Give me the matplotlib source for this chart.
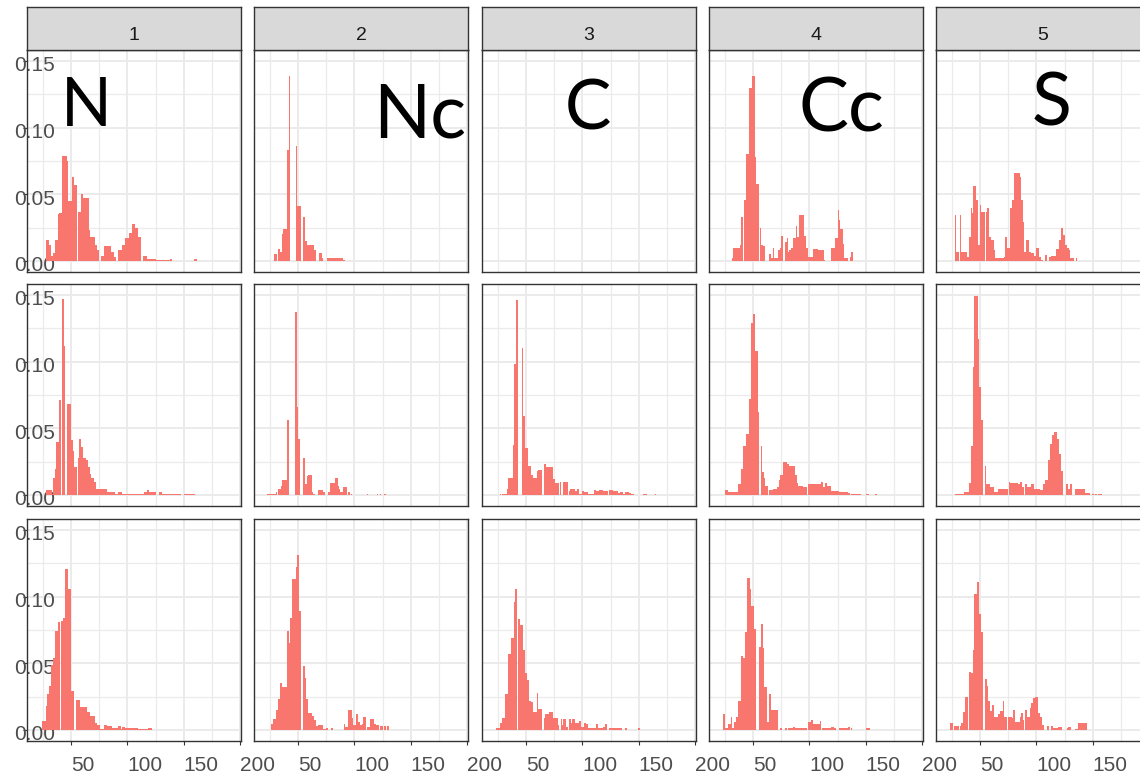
import numpy as np
import matplotlib.pyplot as plt
from matplotlib.transforms import ScaledTranslation

plt.rcParams['font.family'] = ['Liberation Sans', 'DejaVu Sans']

# histogram bins are 1 unit wide; each run is (number of bins, height in 1/1000)
strip_labels = ['1', '2', '3', '4', '5']
panel_names = ['N', 'Nc', 'C', 'Cc', 'S']

N_1 = [(2, 16), (2, 12), (2, 4), (2, 6), (2, 16), (1, 35), (3, 36), (4, 79), (1, 75), (4, 45),
       (2, 63), (2, 57), (1, 0), (3, 37), (2, 50), (5, 47), (1, 23), (4, 18), (2, 12), (2, 8),
       (2, 0), (2, 4), (6, 11), (3, 7), (2, 3), (2, 0), (3, 8), (3, 12), (3, 17), (3, 21),
       (3, 28), (2, 25), (3, 18), (2, 0), (3, 4), (8, 1.5), (13, 1), (2, 1.5), (19, 0.3), (3, 1.5)]
Nc_1 = [(2, 5), (1, 0), (2, 9), (2, 7), (1, 20), (3, 24), (2, 83), (1, 139), (5, 0), (1, 86),
        (4, 41), (1, 0), (2, 33), (2, 15), (6, 12), (2, 8), (3, 0), (2, 6), (1, 2), (4, 0),
        (8, 2), (6, 2.5), (2, 1), (30, 0.3)]
C_1 = []
Cc_1 = [(1, 2), (6, 9.5), (1, 12), (2, 33), (1, 0), (2, 46), (2, 80), (3, 130), (3, 139), (1, 78),
        (2, 58), (1, 0), (1, 24.5), (2, 12), (2, 11), (3, 0), (2, 5), (2, 2), (1, 10), (3, 2),
        (2, 8), (1, 9.5), (2, 19), (1, 0), (2, 14), (1, 17), (1, 7), (2, 8), (1, 9.5), (3, 17),
        (1, 26), (2, 18), (4, 34.5), (2, 19), (2, 9.5), (4, 3), (5, 9), (5, 8), (1, 1), (5, 0),
        (4, 9.5), (2, 17), (1, 38), (1, 31), (3, 24), (1, 13), (2, 2), (1, 2.5), (2, 0), (1, 3),
        (2, 7)]
S_1 = [(1, 34.5), (2, 7), (1, 0), (1, 34.5), (1, 7), (4, 6.5), (2, 3), (2, 18), (1, 39.5), (1, 36),
       (2, 56), (2, 46), (2, 12), (1, 42), (3, 37), (1, 0), (1, 37), (2, 40), (2, 18), (2, 16),
       (1, 8), (2, 2), (6, 2.5), (1, 2.75), (2, 18), (3, 9.5), (1, 39.5), (2, 46), (5, 66), (1, 63),
       (2, 46), (1, 29.5), (2, 7), (2, 16), (2, 7), (3, 6), (2, 4), (2, 10), (2, 3), (2, 1),
       (2, 0), (1, 4.5), (2, 0), (2, 3), (4, 4), (3, 9), (2, 16), (2, 25), (1, 19.5), (2, 12),
       (2, 9.5), (1, 8), (3, 2), (2, 0), (1, 2.5), (33, 0.3)]

N_2 = [(5, 3.75), (1, 1), (2, 12.5), (1, 19.5), (2, 39.5), (2, 71), (1, 0), (2, 147), (1, 112), (1, 0),
       (4, 68), (2, 41), (1, 33), (2, 21), (1, 0), (1, 28), (2, 42), (2, 36), (2, 28), (2, 26),
       (2, 21), (1, 16), (2, 13), (2, 9.5), (10, 4.5), (7, 2.5), (3, 1), (3, 2.5), (20, 0.75), (2, 2),
       (2, 3.75), (6, 2), (3, 0), (3, 2), (17, 0.75), (2, 0), (10, 0.75)]
Nc_2 = [(8, 0.75), (1, 2), (1, 0), (3, 4.5), (1, 7), (4, 11), (2, 56), (5, 0), (2, 137), (1, 66),
        (2, 42), (2, 0), (2, 28), (2, 8), (1, 14.5), (3, 15), (1, 2), (2, 0.75), (3, 0), (4, 3.75),
        (2, 2), (3, 0), (1, 2), (5, 9), (2, 12.5), (1, 7), (1, 4.5), (3, 2), (3, 5.75), (1, 0),
        (2, 2), (1, 0), (1, 0.75), (1, 0), (10, 0.3), (2, 0), (1, 0.75), (8, 0), (1, 0.75), (2, 0),
        (1, 0.75), (2, 0), (2, 0.75)]
C_2 = [(5, 0.3), (3, 0), (1, 1), (1, 0), (4, 1), (1, 4.75), (4, 13), (1, 37.5), (2, 98.5), (2, 146),
       (3, 0), (1, 110), (2, 59), (3, 35.5), (2, 22), (2, 15), (4, 13), (1, 18), (3, 19), (2, 0),
       (2, 23), (6, 21), (2, 12), (3, 9), (1, 0), (1, 10), (2, 0), (4, 10), (1, 0), (1, 3),
       (4, 4.25), (2, 3), (2, 4.25), (3, 1), (1, 3), (4, 2.25), (5, 1), (2, 3.75), (3, 3), (3, 3.75),
       (5, 3), (1, 0), (3, 3.75), (5, 2.75), (1, 1.75), (3, 2.25), (2, 1), (3, 2.25), (2, 1.75), (3, 1),
       (5, 0.3), (3, 0), (3, 1), (3, 0), (3, 0.3), (1, 0), (1, 1)]
Cc_2 = [(3, 3.75), (9, 2.25), (2, 8), (2, 19.75), (3, 37), (2, 46), (2, 72), (2, 129), (2, 136), (2, 108),
        (1, 62), (2, 0), (1, 37), (2, 17), (1, 13), (2, 6.75), (1, 0), (4, 3.75), (3, 4.25), (2, 6.25),
        (1, 11), (3, 15), (3, 24.75), (2, 23), (5, 22), (2, 15), (1, 9), (4, 7), (4, 6), (1, 0),
        (11, 8), (2, 10), (2, 6), (2, 9), (3, 7), (7, 3), (8, 2.25), (2, 1.75), (1, 0), (9, 1),
        (4, 0), (3, 1), (5, 0), (2, 1)]
S_2 = [(8, 1), (4, 2.5), (2, 9), (2, 37), (1, 96), (3, 149), (1, 117), (2, 81), (2, 56.5), (1, 0),
       (1, 22), (4, 8), (3, 6.25), (4, 2.5), (2, 4.75), (7, 4.25), (1, 0), (1, 9.75), (7, 9), (1, 8),
       (2, 10), (2, 6.25), (1, 0), (2, 8), (3, 6.25), (3, 8), (3, 4.25), (2, 4.75), (3, 3.75), (2, 8),
       (2, 11), (2, 26), (2, 38), (2, 44.75), (2, 47), (2, 42), (2, 30.5), (2, 18), (2, 0), (2, 8),
       (2, 4.75), (2, 8), (2, 0), (9, 4.25), (5, 1.25), (1, 0), (2, 1), (1, 0), (2, 1), (1, 0),
       (3, 1)]

N_3 = [(4, 6.75), (1, 18), (1, 26.75), (2, 33), (2, 49), (2, 53.75), (2, 74), (2, 81), (1, 0), (2, 82),
       (2, 84), (2, 121), (3, 105.5), (3, 29), (1, 0), (4, 22.5), (6, 17), (3, 13.5), (4, 10.5), (2, 5.5),
       (3, 4), (3, 0.5), (3, 4), (4, 3), (6, 1.75), (2, 3), (1, 0.5), (3, 2.5), (11, 1.25), (9, 0.5),
       (4, 1.25), (74, 0.25)]
Nc_3 = [(2, 4.25), (2, 8), (2, 14.75), (2, 23), (2, 35.5), (4, 32.5), (2, 74), (1, 65.5), (2, 84), (3, 113.5),
        (1, 122.5), (2, 131), (2, 89), (1, 0), (2, 48), (1, 39), (2, 23), (3, 13), (2, 10.5), (2, 7.5),
        (2, 3), (4, 3.5), (3, 0.5), (2, 1.25), (2, 0), (2, 1.25), (10, 0), (1, 4.25), (2, 2.5), (4, 14.75),
        (1, 9.25), (2, 3.5), (2, 11.75), (2, 6), (2, 3.5), (1, 4.25), (2, 10), (1, 0), (3, 2.5), (3, 8),
        (2, 4.25), (3, 3.5), (1, 0), (2, 3), (1, 0), (2, 3), (1, 0), (2, 3)]
C_3 = [(4, 1.25), (2, 5), (2, 9.25), (3, 26.75), (3, 56.75), (2, 68.75), (1, 96), (2, 105.5), (1, 0), (2, 83),
       (2, 79), (2, 60), (2, 42.5), (2, 37.5), (1, 21.75), (2, 20.75), (4, 13.75), (1, 27.5), (3, 15.5), (2, 0),
       (1, 9.25), (3, 11.75), (4, 13.25), (4, 8.75), (1, 3.75), (2, 0), (1, 8), (1, 3.75), (2, 8), (2, 2.5),
       (1, 0), (2, 8), (1, 5), (2, 8), (4, 5), (2, 6.75), (2, 2.5), (2, 5), (2, 4.25), (2, 1.75),
       (5, 1.25), (2, 4.25), (4, 1.25), (2, 2.5), (2, 4.25), (2, 0), (11, 1.25), (3, 0), (2, 1.25), (9, 0.25),
       (2, 1.25)]
Cc_3 = [(2, 11.75), (3, 1.25), (2, 4.25), (1, 10), (2, 1.25), (2, 6.25), (2, 10), (2, 21.75), (2, 55.5), (2, 53.75),
        (2, 73.75), (2, 114.25), (1, 105.5), (3, 93.25), (2, 75.5), (2, 0), (2, 62), (2, 79.25), (1, 61.75), (2, 32.5),
        (2, 6.25), (2, 26.75), (6, 15), (2, 0), (2, 1.25), (2, 0), (2, 1.25), (1, 0), (4, 1.25), (2, 2.5),
        (11, 1.25), (1, 0), (2, 6.25), (2, 7.5), (6, 4.25), (1, 6.75), (1, 0), (8, 1.25), (3, 2.5), (2, 1.25),
        (2, 0), (8, 1.25), (2, 2.5), (1, 0), (1, 1.25), (1, 0), (11, 0.25), (4, 1.25)]
S_3 = [(3, 5), (1, 0), (4, 3), (1, 0), (1, 3), (2, 5), (2, 13.25), (2, 25), (1, 0), (2, 43.25),
       (2, 43), (1, 60), (2, 101.75), (2, 110.75), (2, 86.75), (2, 73.75), (1, 0), (2, 38), (1, 33), (2, 22),
       (2, 14.5), (1, 18.75), (2, 10), (2, 9.5), (2, 11.75), (2, 14.5), (1, 22), (3, 10), (1, 0), (3, 10),
       (1, 8.75), (2, 15), (4, 6.25), (1, 10), (2, 13), (1, 7.5), (1, 0), (2, 15), (2, 10), (1, 16.25),
       (2, 20), (2, 23.75), (2, 25), (2, 13), (2, 10), (2, 3.75), (2, 0), (2, 3), (2, 0), (2, 3),
       (4, 1.25), (4, 2.5), (4, 0), (1, 1.25), (3, 2.5), (3, 0), (3, 0.5), (8, 5)]

rows = [[N_1, Nc_1, C_1, Cc_1, S_1],
        [N_2, Nc_2, C_2, Cc_2, S_2],
        [N_3, Nc_3, C_3, Cc_3, S_3]]
# left edge of the first bin of each panel
row_from = [[28, 29, 0, 31, 28],
            [28, 22, 19, 25, 28],
            [24, 26, 23, 23, 23]]

x_major = [50, 100, 150, 200]
x_minor = [25, 75, 125, 175]
y_major = [0.0, 0.05, 0.10, 0.15]
y_minor = [0.025, 0.075, 0.125]
y_labels = ['0.00', '0.05', '0.10', '0.15']

BAR = '#F8766D'
W, H = 1140, 779
fig = plt.figure(figsize=(W / 100, H / 100), dpi=100)


def box(left, top, w, h):
    return [left / W, 1 - (top + h) / H, w / W, h / H]


col_left = [27, 254, 482, 709, 936]
row_top = [50, 284, 519]
PW, PH = 214, 222

# big overlay letters: (x, baseline y) in axes fraction, font size
letters = [(0.276, 0.658, 48), (0.776, 0.608, 54), (0.495, 0.644, 50),
           (0.621, 0.631, 54), (0.542, 0.658, 53)]

for r in range(3):
    for c in range(5):
        ax = fig.add_axes(box(col_left[c], row_top[r], PW, PH))
        runs = rows[r][c]
        if runs:
            counts = [n for n, h in runs]
            vals = [h for n, h in runs]
            heights = np.repeat(vals, counts) / 1000
            edges = row_from[r][c] + np.arange(len(heights) + 1)
            ax.stairs(heights, edges, fill=True, color=BAR, lw=0)
        ax.set_xlim(10.9, 200.8)
        ax.set_ylim(-0.00825, 0.15825)
        ax.set_xticks(x_major)
        ax.set_xticks(x_minor, minor=True)
        ax.set_yticks(y_major)
        ax.set_yticks(y_minor, minor=True)
        ax.grid(which='major', color='#EBEBEB', lw=1.4)
        ax.grid(which='minor', color='#EBEBEB', lw=0.9)
        ax.set_axisbelow(True)
        for s in ax.spines.values():
            s.set_color('#333333')
            s.set_linewidth(1.0)
        ax.tick_params(which='minor', length=0)
        ax.tick_params(which='major', colors='#333333', length=2.75, width=0.8,
                       labelcolor='#4D4D4D', labelsize=15)

        if r == 2:
            # the last panel is cut by the figure edge, so its 200 is not seen
            xl = [str(v) for v in x_major]
            if c == 4:
                xl[-1] = ''
            ax.set_xticklabels(xl)
            ax.tick_params(axis='x', pad=7.7)
            for lbl in ax.get_xticklabels():
                lbl.set_horizontalalignment('left')
        else:
            ax.tick_params(axis='x', length=0, labelbottom=False)

        if c == 0:
            ax.set_yticklabels(y_labels)
            ax.tick_params(axis='y', pad=-22.9)
            shift = ScaledTranslation(0, -2.7 / 100, fig.dpi_scale_trans)
            for lbl in ax.get_yticklabels():
                lbl.set_transform(lbl.get_transform() + shift)
        else:
            ax.tick_params(axis='y', length=0, labelleft=False)

        if r == 0:
            lx, ly, fs = letters[c]
            ax.text(lx, ly, panel_names[c], transform=ax.transAxes, ha='center',
                    va='baseline', fontsize=fs, family=['Lato', 'DejaVu Sans'], color='black')

            sax = fig.add_axes(box(col_left[c], 7, PW, 43))
            sax.set_facecolor('#D9D9D9')
            sax.set_xticks([])
            sax.set_yticks([])
            for s in sax.spines.values():
                s.set_color('#333333')
                s.set_linewidth(1.0)
            sax.text(0.5, 0.395, strip_labels[c], transform=sax.transAxes, ha='center',
                     va='center_baseline', fontsize=14, color='#1A1A1A')

fig.savefig('out.png', dpi=100)
